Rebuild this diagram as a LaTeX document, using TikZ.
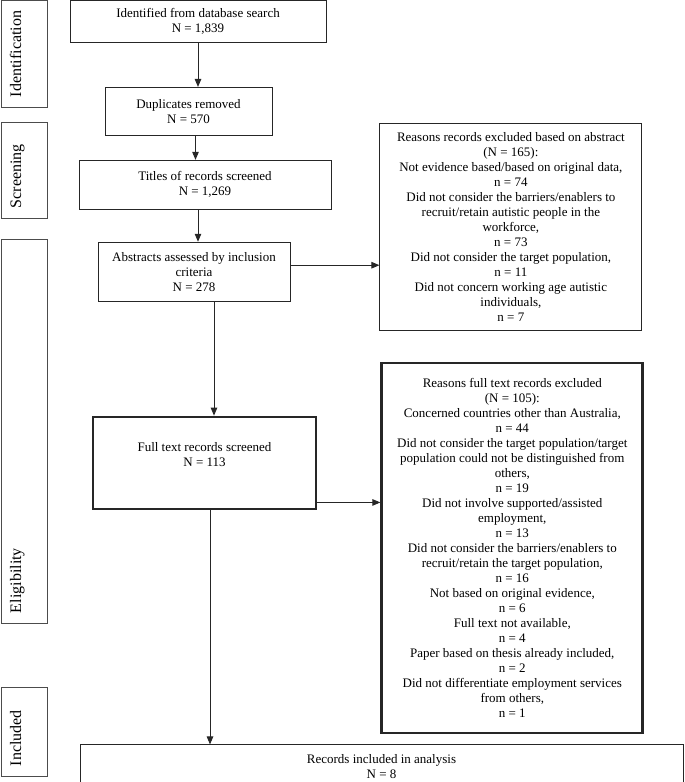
\documentclass[tikz,border=0pt]{standalone}
\usepackage{fontspec}
\setmainfont{Liberation Serif}
\usetikzlibrary{arrows.meta,positioning}

\begin{document}
\begin{tikzpicture}[x=1pt,y=1pt,box/.style={draw=black!85,line width=0.9pt,align=center,font=\fontsize{13}{15}\selectfont},thickbox/.style={box,line width=2.8pt},stage/.style={draw=black!70,line width=0.9pt,rotate=90,align=left,font=\fontsize{16}{18}\selectfont,inner xsep=10pt,inner ysep=6pt,text height=14pt,text depth=20pt},arr/.style={-{Triangle[length=8pt,width=6.5pt]},line width=0.9pt,draw=black!85}]
\useasboundingbox (0,0) rectangle (685,-782);
\node[stage,text width=86.5pt] (lblident) at (24,-53.75) {Identification};
\node[stage,text width=76pt] (lblscreen) at (24,-170) {Screening};
\node[stage,text width=364pt] (lblelig) at (24,-431) {Eligibility};
\node[stage,text width=69pt] (lblincl) at (24,-731.5) {Included};
\node[box,minimum width=256pt,minimum height=42pt] (ident) at (198,-21.5) {Identified from database search\\N = 1,839};
\node[box,below=44pt of ident,xshift=-9.5pt,minimum width=167pt,minimum height=48pt] (dup) {Duplicates removed\\N = 570};
\node[box,below=24pt of dup,xshift=16.5pt,minimum width=252pt,minimum height=49pt] (titles) {Titles of records screened\\N = 1,269};
\node[box,below=32pt of titles,xshift=-11pt,minimum width=192pt,minimum height=59pt] (abstr) {Abstracts assessed by inclusion\\criteria\\N = 278};
\node[thickbox,below=114pt of abstr,xshift=10.5pt,minimum width=223pt,minimum height=92pt,text depth=17pt] (full) {Full text records screened\\N = 113};
\node[box,below=234pt of full,xshift=177pt,minimum width=603pt,minimum height=43pt] (incl) {Records included in analysis\\N = 8};
\node[box,right=89pt of abstr,yshift=45pt,minimum width=262pt,minimum height=207pt] (absex) {Reasons records excluded based on abstract\\(N = 165):\\Not evidence based/based on original data,\\n = 74\\Did not consider the barriers/enablers to\\recruit/retain autistic people in the\\workforce,\\n = 73\\Did not consider the target population,\\n = 11\\Did not concern working age autistic\\individuals,\\n = 7};
\node[thickbox,right=63pt of full,yshift=-85pt,minimum width=261pt,minimum height=370pt] (fullex) {Reasons full text records excluded\\(N = 105):\\Concerned countries other than Australia,\\n = 44\\Did not consider the target population/target\\population could not be distinguished from\\others,\\n = 19\\Did not involve supported/assisted\\employment,\\n = 13\\Did not consider the barriers/enablers to\\recruit/retain the target population,\\n = 16\\Not based on original evidence,\\n = 6\\Full text not available,\\n = 4\\Paper based on thesis already included,\\n = 2\\Did not differentiate employment services\\from others,\\n = 1};
\draw[arr] (ident.south) -- (ident.south |- dup.north);
\draw[arr] ([xshift=7pt]dup.south) -- ([xshift=7pt]dup.south |- titles.north);
\draw[arr] ([xshift=-7pt]titles.south) -- ([xshift=-7pt]titles.south |- abstr.north);
\draw[arr] ([xshift=20pt]abstr.south) -- ([xshift=20pt]abstr.south |- full.north);
\draw[arr] ([xshift=5.5pt]full.south) -- ([xshift=5.5pt]full.south |- incl.north);
\draw[arr] ([yshift=6.5pt]abstr.east) -- ([yshift=6.5pt]abstr.east -| absex.west);
\draw[arr] ([yshift=8pt]full.south east) -- ([yshift=8pt]full.south east -| fullex.west);
\end{tikzpicture}
\end{document}
